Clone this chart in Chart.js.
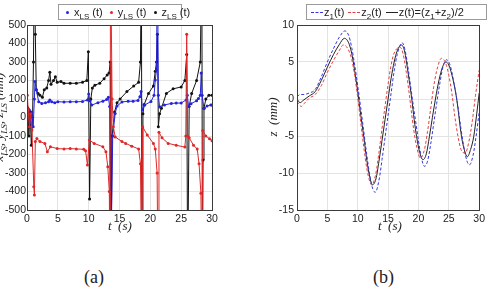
<!DOCTYPE html>
<html lang="en">
<head>
    <meta charset="UTF-8">
    <title>Two panels</title>
    <script src="https://cdn.jsdelivr.net/npm/chart.js"></script>
    <style>
        body { margin: 0; width: 488px; height: 294px; background: #fff; position: relative; overflow: hidden; font-family: "Liberation Sans", Arial, sans-serif; }
        canvas { position: absolute; top: 0; }
        .legend { position: absolute; top: 4px; height: 16px; border: 1px solid #9a9a9a; background: #fff; font-size: 11px; color: #222; line-height: 15px; white-space: nowrap; box-sizing: border-box; }
        .legend sub { font-size: 8px; vertical-align: -3px; line-height: 0; }
        .dot { display: inline-block; width: 3px; height: 3px; border-radius: 2px; margin: 0 5px 1px 7px; vertical-align: middle; }
        .dash { display: inline-block; width: 12px; height: 0; border-top: 1px dashed; margin: 0 1px 2px 4px; vertical-align: middle; }
        .solid { display: inline-block; width: 12px; height: 0; border-top: 1px solid #222; margin: 0 1px 2px 4px; vertical-align: middle; }
        .title { position: absolute; font-family: "Liberation Serif", "DejaVu Serif", serif; font-style: italic; font-size: 13px; color: #222; white-space: nowrap; line-height: 14px; }
        .title sub { font-size: 9px; line-height: 0; }
        .cap { position: absolute; top: 267px; font-family: "Liberation Serif", serif; font-size: 18px; color: #222; }
    </style>
</head>
<body>
    <canvas id="left" width="244" height="230" style="left:0"></canvas>
    <canvas id="right" width="244" height="230" style="left:244px"></canvas>

    <div class="legend" style="left:58px; width:124px;">
        <span class="dot" style="background:#2424d8"></span>x<sub>LS</sub> (t)<span class="dot" style="background:#e02828"></span>y<sub>LS</sub> (t)<span class="dot" style="background:#111"></span>z<sub>LS</sub> (t)
    </div>
    <div class="legend" style="left:306px; width:181px;">
        <span class="dash" style="color:#3434e0"></span>z<sub>1</sub>(t)<span class="dash" style="color:#e04040"></span>z<sub>2</sub>(t)<span class="solid"></span>z(t)=(z<sub>1</sub>+z<sub>2</sub>)/2
    </div>

    <div class="title" style="left:108px; top:219px;">t&nbsp;&nbsp;(s)</div>
    <div class="title" style="left:378px; top:219px;">t&nbsp;&nbsp;(s)</div>
    <div class="title" style="left:-66px; top:110px; transform: rotate(-90deg); width:130px; text-align:center;">x<sub>LS</sub>, y<sub>LS</sub>, z<sub>LS</sub> (mm)</div>
    <div class="title" style="left:238px; top:110px; transform: rotate(-90deg); width:70px; text-align:center;">z&nbsp;&nbsp;(mm)</div>
    <div class="cap" style="left:84px;">(a)</div>
    <div class="cap" style="left:373px;">(b)</div>

    <script>
        // panel (a) - x_LS, y_LS, z_LS in mm
        const tX = [0, 0.2, 0.4, 0.6, 0.8, 1.0, 1.2, 1.3, 1.5, 1.9, 2.4, 3.0, 3.5, 3.7, 4.0, 4.5, 5, 6, 7, 8, 9, 9.8, 10.0, 10.2, 10.5, 11.5, 12.3, 12.9, 13.2, 13.4, 13.55, 13.9, 14.3, 14.6, 15.4, 16.4, 17.2, 18.0, 18.3, 18.5, 18.7, 19.1, 20.1, 20.6, 20.8, 21.0, 21.15, 21.3, 21.5, 22.3, 23.4, 24.2, 25.0, 25.8, 26.0, 26.2, 26.6, 27.5, 27.8, 28.1, 28.25, 28.4, 28.7, 29.2, 29.8, 30];
        const xLS = [50, 20, 40, -30, 30, -50, 100, 194, 150, 85, 76, 80, 85, 95, 85, 80, 85, 84, 85, 85, 86, 95, 127, 90, 67, 80, 88, 97, 110, 60, -900, -100, 22, 62, 84, 88, 88, 92, 112, 140, 40, 68, 86, 120, 203, 257, 900, 120, 58, 68, 76, 78, 78, 95, 120, 60, 75, 90, 103, 120, 240, 120, 49, 62, 68, 68];

        const tY = [0, 0.05, 0.2, 0.4, 0.6, 0.8, 1.1, 1.2, 1.35, 1.6, 2.1, 2.9, 3.3, 3.8, 4.9, 6, 7, 8, 9.2, 9.5, 9.8, 10.1, 10.9, 12.3, 12.8, 13.1, 13.35, 13.45, 13.55, 13.8, 14.0, 14.3, 15.4, 16.0, 17.0, 18.1, 18.4, 18.6, 18.75, 19.5, 20.5, 20.8, 21.1, 21.25, 21.4, 21.9, 22.9, 24.2, 25.6, 25.75, 25.9, 26.05, 26.3, 27.0, 27.6, 27.9, 28.2, 28.35, 28.5, 29.0, 29.6, 30];
        const yLS = [60, 120, 40, -50, 20, -68, -374, -419, -130, -114, -130, -140, -185, -158, -168, -170, -168, -170, -172, -180, -257, -122, -140, -158, -185, -266, -400, -900, 900, 100, -50, -105, -130, -140, -155, -170, -250, -900, -50, -95, -140, -170, -300, -900, -80, -110, -140, -150, -160, -100, 450, -100, -110, -150, -170, -250, -410, -900, -70, -100, -115, -125];

        const tZ = [0, 0.15, 0.3, 0.5, 0.7, 0.9, 1.05, 1.2, 1.35, 1.5, 1.8, 2.1, 2.5, 2.8, 3.2, 3.5, 3.7, 3.9, 4.3, 4.6, 4.9, 5.5, 6, 7, 8, 9, 9.7, 9.95, 10.15, 10.35, 10.6, 11.0, 11.8, 12.5, 13.0, 13.3, 13.5, 13.6, 13.8, 14.2, 14.6, 15.1, 16.2, 17.3, 18.1, 18.4, 18.55, 18.65, 18.8, 19.0, 19.7, 20.5, 20.8, 21.0, 21.15, 21.3, 21.5, 21.8, 22.6, 23.7, 25.0, 25.6, 25.9, 26.05, 26.3, 26.7, 27.5, 28.1, 28.35, 28.45, 28.55, 28.7, 29.0, 29.5, 30];
        const zLS = [-50, 50, -100, 30, -150, 0, 300, 900, 450, 150, 130, 120, 110, 150, 160, 200, 245, 180, 200, 220, 190, 195, 185, 185, 185, 190, 200, 355, -440, 100, 160, 175, 185, 210, 230, 240, 300, -900, -100, 30, 80, 100, 140, 170, 190, 300, 900, -900, 20, 70, 130, 170, 250, 300, 450, -50, 20, 50, 130, 155, 165, 200, 340, -900, 60, 130, 200, 300, 900, -900, -230, 50, 100, 120, 120];

        // panel (b) - z1, z2 and their mean, in mm
        const t1 = [0, 0.5, 1, 2, 3, 4, 5, 6, 7, 7.9, 8.5, 9, 9.5, 10, 10.5, 11, 11.5, 12, 12.5, 12.9, 13.5, 14, 14.5, 15, 15.5, 16, 16.5, 17.3, 17.8, 18.5, 19, 19.5, 20, 20.5, 21, 21.5, 22, 22.5, 23, 23.5, 24, 24.6, 25.2, 25.8, 26.5, 27, 27.5, 28, 28.4, 29, 29.5, 30];
        const z1 = [0.3, 0.6, 0.6, 0.8, 1.3, 3.0, 5.0, 6.8, 8.4, 9.2, 8.6, 7.0, 4.6, 1.8, -1.2, -4.4, -7.6, -10.4, -12.2, -12.6, -11.0, -8.2, -5.2, -2.2, 0.8, 3.8, 6.0, 7.6, 6.6, 3.0, 0, -2.8, -5.6, -8.0, -9.1, -8.4, -6.2, -3.4, -0.6, 2.0, 4.2, 5.3, 4.6, 2.4, -1.0, -4.0, -6.6, -8.4, -8.9, -7.6, -5.0, -1.8];

        const t2 = [0, 0.4, 0.7, 1.2, 2, 3, 4, 5, 6, 7, 7.6, 8.3, 9, 9.5, 10, 10.5, 11, 11.5, 12, 12.3, 13, 13.5, 14, 14.5, 15, 15.5, 16, 17, 17.5, 18, 18.5, 19, 19.5, 20, 20.3, 21, 21.5, 22, 22.5, 23, 23.8, 24.5, 25, 25.5, 26, 26.5, 27, 27.7, 28.3, 28.9, 29.4, 30];
        const z2 = [-0.3, -0.8, -1.0, -0.6, 0.1, 0.6, 1.8, 3.6, 5.2, 6.6, 7.3, 6.9, 5.4, 3.2, 0.2, -3.2, -6.5, -9.4, -11.2, -11.6, -10.0, -7.2, -4.0, -1.0, 2.0, 4.6, 6.2, 7.0, 6.0, 3.6, 0.6, -2.8, -5.6, -7.4, -8.0, -6.8, -4.4, -1.4, 1.6, 3.8, 5.5, 4.8, 3.2, 0.8, -2.4, -5.0, -6.8, -7.3, -5.8, -2.8, 0.5, 3.9];

        const tm = [0, 0.5, 1, 2, 3, 4, 5, 6, 7, 7.8, 8.5, 9, 9.5, 10, 10.5, 11, 11.5, 12, 12.4, 13, 13.5, 14, 14.5, 15, 15.5, 16, 16.5, 17.2, 17.7, 18.3, 18.9, 19.3, 19.7, 20.2, 20.75, 21.3, 21.8, 22.3, 22.8, 23.4, 24, 24.5, 25, 25.7, 26.3, 27.1, 27.6, 28.05, 28.6, 29.1, 29.6, 30];
        const zm = [0, -0.5, -0.2, 0.4, 1.0, 2.5, 4.3, 6.0, 7.4, 8.2, 7.6, 6.2, 3.8, 1.0, -2.2, -5.1, -8.3, -10.6, -11.6, -10.8, -8.4, -5.6, -2.8, 0.0, 2.8, 5.0, 6.5, 7.3, 6.5, 3.5, 0, -2.8, -5.1, -7.2, -8.2, -7.4, -5.1, -2.5, 0, 2.6, 4.4, 5.0, 4.6, 2.6, 0, -5.1, -7.0, -7.8, -6.8, -5.1, -2.0, 0.8];

        const pts = (ts, vs) => ts.map((t, i) => ({ x: t, y: vs[i] }));

        const boxPlugin = {
            id: 'box',
            afterDraw(chart) {
                const a = chart.chartArea, ctx = chart.ctx;
                ctx.save();
                ctx.strokeStyle = '#3a3a3a';
                ctx.lineWidth = 1;
                ctx.strokeRect(Math.round(a.left) + 0.5, Math.round(a.top) + 0.5, Math.round(a.right - a.left), Math.round(a.bottom - a.top));
                ctx.restore();
            }
        };

        function axes(ymin, ymax, ystep, yWidth, yPad) {
            const grid = { color: '#e3e3e3', drawTicks: false };
            const tick = { color: '#222', font: { family: 'Liberation Sans', size: 10.5 } };
            return {
                x: {
                    type: 'linear', min: 0, max: 30,
                    ticks: { ...tick, stepSize: 5, padding: 3 },
                    grid: grid, border: { color: '#3a3a3a' },
                    afterFit: s => { s.height = 20; }
                },
                y: {
                    min: ymin, max: ymax,
                    ticks: { ...tick, stepSize: ystep, padding: yPad },
                    grid: grid, border: { color: '#3a3a3a' },
                    afterFit: s => { s.width = yWidth; }
                }
            };
        }

        const common = {
            responsive: false,
            animation: false,
            devicePixelRatio: 1,
            plugins: { legend: { display: false }, tooltip: { enabled: false } }
        };

        new Chart(document.getElementById('left'), {
            type: 'line',
            data: {
                datasets: [
                    { data: pts(tY, yLS), borderColor: '#e02828', backgroundColor: '#e02828' },
                    { data: pts(tX, xLS), borderColor: '#2424d8', backgroundColor: '#2424d8' },
                    { data: pts(tZ, zLS), borderColor: '#111111', backgroundColor: '#111111' }
                ].map(d => ({ ...d, borderWidth: 1, pointRadius: 1.5, pointBorderWidth: 0, tension: 0 }))
            },
            options: {
                ...common,
                layout: { padding: { top: 25, right: 32, left: 0, bottom: 0 } },
                scales: axes(-500, 500, 100, 27, 1)
            },
            plugins: [boxPlugin]
        });

        new Chart(document.getElementById('right'), {
            type: 'line',
            data: {
                datasets: [
                    { data: pts(t2, z2), borderColor: '#e04040', borderDash: [3, 2] },
                    { data: pts(t1, z1), borderColor: '#3434e0', borderDash: [3, 2] },
                    { data: pts(tm, zm), borderColor: '#222222' }
                ].map(d => ({ ...d, borderWidth: 1, pointRadius: 0, cubicInterpolationMode: 'monotone' }))
            },
            options: {
                ...common,
                layout: { padding: { top: 25, right: 6, left: 0, bottom: 0 } },
                scales: axes(-15, 10, 5, 53, 3)
            },
            plugins: [boxPlugin]
        });
    </script>
</body>
</html>
